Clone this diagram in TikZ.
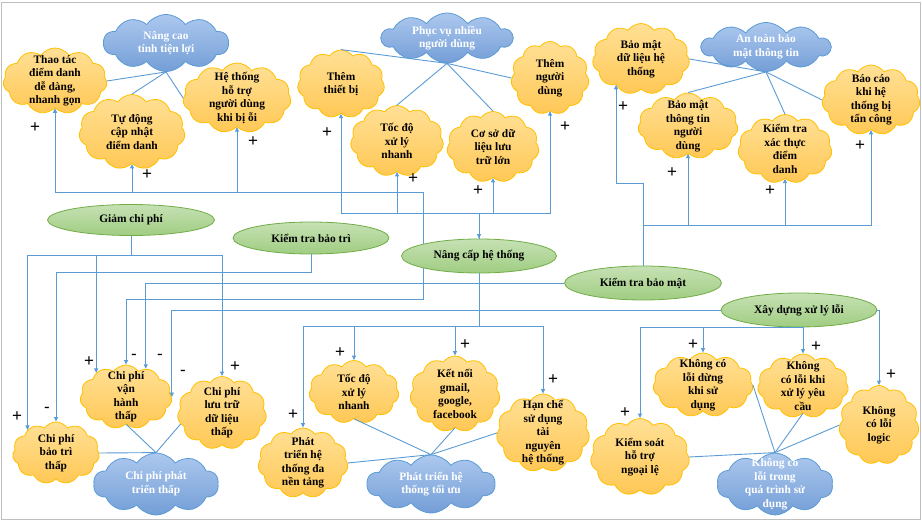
\documentclass[tikz,border=0pt]{standalone}
\usepackage{fontspec}
\setmainfont{Liberation Serif}
\newfontfamily\signfont{Liberation Sans}
\usetikzlibrary{%
  arrows.meta,%
  shapes,% wg. cloud, ellipse
  positioning%
}
\definecolor{linkblue}{RGB}{91,155,213}
\definecolor{frameg}{RGB}{191,191,191}
\definecolor{ydraw}{RGB}{255,192,0}
\definecolor{ytop}{RGB}{255,224,150}
\definecolor{ybot}{RGB}{255,200,85}
\definecolor{bdraw}{RGB}{91,155,213}
\definecolor{btop}{RGB}{172,200,238}
\definecolor{bbot}{RGB}{116,158,215}
\definecolor{gdraw}{RGB}{112,173,71}
\definecolor{gtop}{RGB}{198,225,180}
\definecolor{gbot}{RGB}{160,205,130}

\begin{document}
\begin{tikzpicture}
  [
  x=1pt, y=-1pt,
  font=\bfseries\fontsize{11.4}{13.5}\selectfont,
  link/.style={draw=linkblue, line width=0.9pt},
  arr/.style={link, -{Triangle[length=4.5pt,width=4pt]}},
  both/.style={link, {Triangle[length=4.5pt,width=4pt]}-{Triangle[length=4.5pt,width=4pt]}},
  ycloud/.style={cloud, cloud puffs=11, cloud puff arc=110, cloud ignores aspect, inner sep=0pt, draw=ydraw, line width=0.8pt, top color=ytop, bottom color=ybot},
  bcloud/.style={cloud, cloud puffs=10, cloud puff arc=110, cloud ignores aspect, inner sep=0pt, draw=bdraw, line width=0.8pt, top color=btop, bottom color=bbot},
  goal/.style={ellipse, inner sep=0pt, draw=gdraw, line width=0.8pt, top color=gtop, bottom color=gbot},
  ytext/.style={align=center, text=black},
  btext/.style={align=center, text=white},
  sign/.style={font=\signfont\fontsize{17}{17}\selectfont, inner sep=0pt}
  ]
\useasboundingbox (0,0) rectangle (922,524);
\draw[frameg, line width=0.8pt] (1,2) rectangle (920,519);

% top left
\node[bcloud, minimum width=125, minimum height=57, label={[btext]center:{Nâng cao\\tính tiện lợi}}] (tienloi) at (166,43) {};
\node[ycloud, minimum width=104, minimum height=66, label={[ytext]center:{Thao tác\\điểm danh\\dễ dàng,\\nhanh gọn}}] (thaotac) at (55,81) {};
\node[ycloud, minimum width=106, minimum height=75, label={[ytext]center:{Tự động\\cập nhật\\điểm danh}}] (tudong) at (132,132) {};
\node[ycloud, minimum width=108, minimum height=70, label={[ytext]center:{Hệ thống\\hỗ trợ\\người dùng\\khi bị ỗi}}] (hotro) at (237,98) {};

% top middle
\node[bcloud, minimum width=131, minimum height=50, label={[btext]center:{Phục vụ nhiều\\người dùng}}] (phucvu) at (447,38) {};
\node[ycloud, minimum width=87, minimum height=68, label={[ytext]center:{Thêm\\thiết bị}}] (themtb) at (341,84) {};
\node[ycloud, minimum width=93, minimum height=71, label={[ytext]center:{Tốc độ\\xử lý\\nhanh}}] (tocdo) at (397,141) {};
\node[ycloud, minimum width=92, minimum height=71, label={[ytext]center:{Cơ sở dữ\\liệu lưu\\trữ lớn}}] (csdl) at (493,147) {};
\node[ycloud, minimum width=78, minimum height=73, label={[ytext]center:{Thêm\\người\\dùng}}] (themnd) at (550,78) {};

% top right
\node[bcloud, minimum width=129, minimum height=49, label={[btext]center:{An toàn bảo\\mật thông tin}}] (antoan) at (766,47) {};
\node[ycloud, minimum width=97, minimum height=71, label={[ytext]center:{Bảo mật\\dữ liệu hệ\\thống}}] (bmdl) at (641,59) {};
\node[ycloud, minimum width=100, minimum height=66, label={[ytext]center:{Bảo mật\\thông tin\\người\\dùng}}] (bmtt) at (688,126) {};
\node[ycloud, minimum width=94, minimum height=69, label={[ytext]center:{Kiểm tra\\xác thực\\điểm\\danh}}] (xacthuc) at (785,149) {};
\node[ycloud, minimum width=98, minimum height=70, label={[ytext]center:{Báo cáo\\khi hệ\\thống bị\\tấn công}}] (baocao) at (871,100) {};

% goals
\node[goal, minimum width=167, minimum height=31] (giamcp) at (131,220) {Giảm chi phí};
\node[goal, minimum width=156, minimum height=32] (baotri) at (311,238) {Kiểm tra bảo trì};
\node[goal, minimum width=155, minimum height=34] (nangcap) at (479,256) {Nâng cấp hệ thống};
\node[goal, minimum width=157, minimum height=34] (ktbm) at (643,283) {Kiểm tra bảo mật};
\node[goal, minimum width=156, minimum height=34] (xuly) at (799,310) {Xây dựng xử lý lỗi};

% bottom left
\node[ycloud, minimum width=87, minimum height=62, label={[ytext]center:{Chi phí\\bảo trì\\thấp}}] (cpbaotri) at (56,453) {};
\node[ycloud, minimum width=92, minimum height=64, label={[ytext]center:{Chi phí\\vận\\hành\\thấp}}] (cpvanhanh) at (126,397) {};
\node[ycloud, minimum width=89, minimum height=73, label={[ytext]center:{Chi phí\\lưu trữ\\dữ liệu\\thấp}}] (cpluutru) at (222,413) {};
\node[bcloud, minimum width=125, minimum height=62, label={[btext]center:{Chi phí phát\\triển thấp}}] (cpphattrien) at (156,484) {};

% bottom middle
\node[ycloud, minimum width=90, minimum height=70, label={[ytext]center:{Phát\\triển hệ\\thống đa\\nền tảng}}] (danentang) at (303,463) {};
\node[ycloud, minimum width=90, minimum height=63, label={[ytext]center:{Tốc độ\\xử lý\\nhanh}}] (tocdo2) at (354,392) {};
\node[ycloud, minimum width=90, minimum height=76, label={[ytext]center:{Kết nối\\gmail,\\google,\\facebook}}] (ketnoi) at (455,394) {};
\node[ycloud, minimum width=93, minimum height=78, label={[ytext]center:{Hạn chế\\sử dụng\\tài\\nguyên\\hệ thống}}] (hanche) at (543,433) {};
\node[bcloud, minimum width=128, minimum height=58, label={[btext]center:{Phát triển hệ\\thống tối ưu}}] (toiuu) at (431,484) {};

% bottom right
\node[ycloud, minimum width=100, minimum height=64, label={[ytext]center:{Không có\\lỗi dừng\\khi sử\\dụng}}] (loidung) at (703,385) {};
\node[ycloud, minimum width=91, minimum height=64, label={[ytext]center:{Không\\có lỗi khi\\xử lý yêu\\cầu}}] (loiyeucau) at (803,386) {};
\node[ycloud, minimum width=80, minimum height=79, label={[ytext]center:{Không\\có lỗi\\logic}}] (loilogic) at (879,425) {};
\node[ycloud, minimum width=99, minimum height=77, label={[ytext]center:{Kiểm soát\\hỗ trợ\\ngoại lệ}}] (ngoaile) at (640,457) {};
\node[bcloud, minimum width=116, minimum height=62, label={[btext]center:{Không có\\lỗi trong\\quá trình sử\\dụng}}] (khongloi) at (775,484) {};

% cloud groups
\foreach \t in {thaotac.east, tudong.north, hotro.west}
  \draw[link] (tienloi.south) -- (\t);
\foreach \t in {themtb.north, tocdo.north, csdl.north, themnd.west}
  \draw[link] (phucvu.south) -- (\t);
\foreach \t in {bmdl.east, bmtt.north, xacthuc.north, baocao.west}
  \draw[link] (antoan.south) -- (\t);
\foreach \t in {cpbaotri.east, cpvanhanh.south, cpluutru.195}
  \draw[link] (cpphattrien.north) -- (\t);
\foreach \t in {danentang.east, tocdo2.south, ketnoi.south, hanche.west}
  \draw[link] (toiuu.north) -- (\t);
\foreach \t in {ngoaile.east, loidung.east, loiyeucau.south, loilogic.west}
  \draw[link] (khongloi.north) -- (\t);

% Giam chi phi
\foreach \t in {cpbaotri.141, cpvanhanh.141, cpluutru.north}
  \draw[arr] (giamcp.south) -- (giamcp.south |- 0,255) -| (\t);
% Kiem tra bao tri
\draw[arr] (baotri.south) -- (baotri.south |- 0,272) -| (cpbaotri.north);
% Nang cap he thong
\foreach \t in {thaotac, tudong, hotro}
  \draw[arr] (nangcap.north west) -- (nangcap.north west |- 0,192) -| (\t.south);
\draw[arr] (nangcap.south west) -- (nangcap.south west |- 0,299) -| (cpvanhanh.north);
\draw[both] (nangcap.north) -- (nangcap.north |- 0,213) -| (themtb.south);
\foreach \t in {tocdo, csdl, themnd}
  \draw[arr] (nangcap.north) -- (nangcap.north |- 0,213) -| (\t.south);
\foreach \t in {danentang, tocdo2, ketnoi, hanche}
  \draw[arr] (nangcap.south) -- (nangcap.south |- 0,326) -| (\t.north);
% Kiem tra bao mat
\draw[arr] (ktbm.west) -| (cpvanhanh.55);
\draw[arr] (ktbm.north) -- (ktbm.north |- 0,183) -| (bmdl.-134);
\foreach \t in {bmtt, xacthuc, baocao}
  \draw[arr] (ktbm.north) -- (ktbm.north |- 0,225) -| (\t.south);
% Xay dung xu ly loi
\draw[arr] (xuly.west) -| (cpvanhanh.east);
\draw[arr] (xuly.east) -| (loilogic.north);
\foreach \t in {ngoaile, loidung, loiyeucau}
  \draw[arr] (xuly.south) -| (\t.north);

% signs
\foreach [count=\i] \x/\y/\s in {35/128/+, 147/175/+, 253/142/+,
    327/133/+, 413/179/+, 478/191/+, 565/127/+,
    623/107/+, 672/173/+, 770/191/+, 860/146/+,
    17/417/+, 47/410/-, 89/362/+, 134/357/-, 160/357/-, 183/373/-, 235/367/+,
    293/415/+, 340/353/+, 465/345/+, 553/380/+,
    625/413/+, 693/345/+, 816/347/+, 891/375/+}
  \node[sign] (sg\i) at (\x,\y) {\s};
\end{tikzpicture}
\end{document}
